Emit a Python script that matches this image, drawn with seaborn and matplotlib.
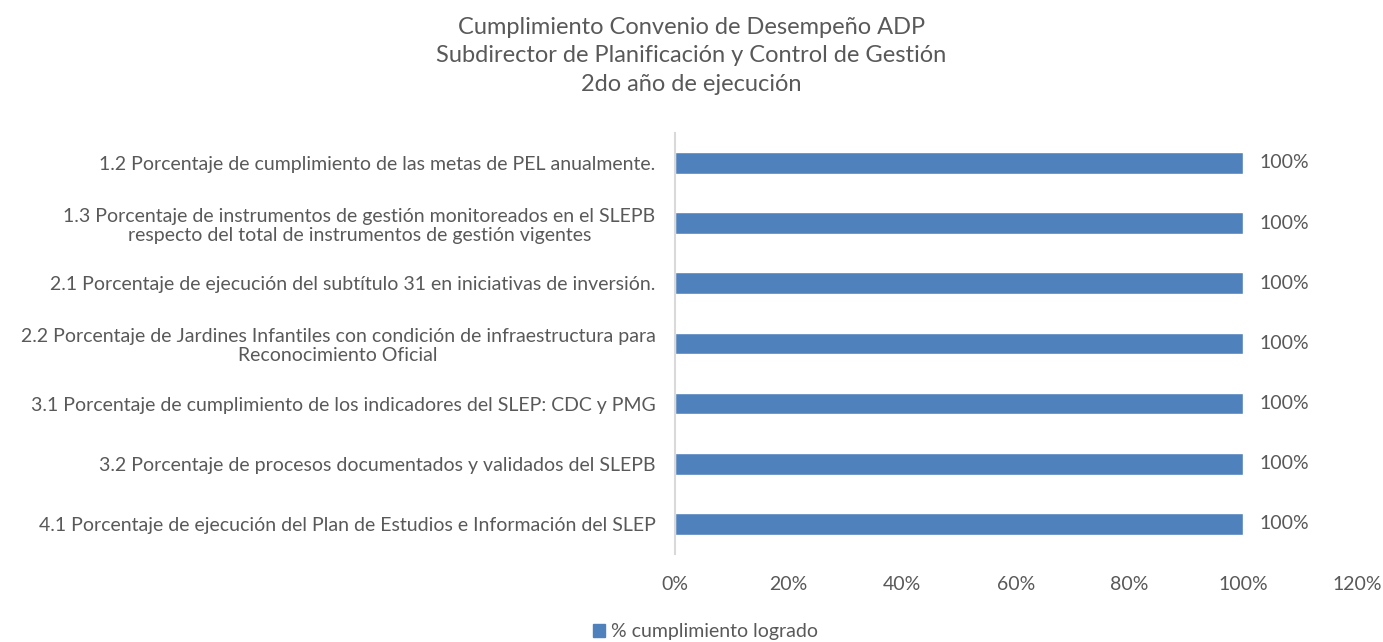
import matplotlib
matplotlib.use("Agg")
import matplotlib.pyplot as plt
import seaborn as sns
import pandas as pd
from matplotlib.ticker import FuncFormatter
from matplotlib.patches import Patch

categories = [
    "1.2 Porcentaje de cumplimiento de las metas de PEL anualmente.",
    "1.3 Porcentaje de instrumentos de gestión monitoreados en el SLEPB\nrespecto del total de instrumentos de gestión vigentes",
    "2.1 Porcentaje de ejecución del subtítulo 31 en iniciativas de inversión.",
    "2.2 Porcentaje de Jardines Infantiles con condición de infraestructura para\nReconocimiento Oficial",
    "3.1 Porcentaje de cumplimiento de los indicadores del SLEP: CDC y PMG",
    "3.2 Porcentaje de procesos documentados y validados del SLEPB",
    "4.1 Porcentaje de ejecución del Plan de Estudios e Información del SLEP",
]
values = [1.0, 1.0, 1.0, 1.0, 1.0, 1.0, 1.0]
series_name = "% cumplimiento logrado"
title_lines = ["Cumplimiento Convenio de Desempeño ADP",
               "Subdirector de Planificación y Control de Gestión",
               "2do año de ejecución"]

sns.set_theme(style="white")
plt.rcParams['font.family'] = ['Lato', 'DejaVu Sans']
txt = "#595959"
bar_color = "#4f81bd"

df = pd.DataFrame({"cat": categories, "val": values})

fig = plt.figure(figsize=(13.83, 6.42), dpi=100)
ax = fig.add_axes([0.488, 0.137, 0.493, 0.656])
sns.barplot(data=df, y="cat", x="val", orient="h", color=bar_color,
            width=0.36, saturation=1, ax=ax)
ax.set_xlim(0, 1.2)
ax.set_ylim(6.5, -0.5)
ax.set_xticks([0, 0.2, 0.4, 0.6, 0.8, 1.0, 1.2])
ax.xaxis.set_major_formatter(FuncFormatter(lambda v, p: f"{v*100:.0f}%"))
ax.set_xlabel("")
ax.set_ylabel("")
for s in ["top", "right", "bottom"]:
    ax.spines[s].set_visible(False)
ax.spines["left"].set_color("#d9d9d9")
ax.spines["left"].set_linewidth(1.5)
ax.tick_params(axis="both", length=0, colors=txt, labelsize=14)
ax.tick_params(axis="x", pad=16)
ax.tick_params(axis="y", pad=14)
for lbl in ax.get_yticklabels():
    lbl.set_horizontalalignment("right")
    lbl.set_multialignment("center")
    lbl.set_linespacing(1.15)

for c in ax.containers:
    ax.bar_label(c, labels=[f"{v*100:.0f}%" for v in values], padding=12,
                 color=txt, fontsize=14)

fig.text(0.5, 0.913, "\n".join(title_lines), ha="center", va="center",
         fontsize=17, color=txt, linespacing=1.45)

fig.legend(handles=[Patch(color=bar_color, label=series_name)],
           loc="center", bbox_to_anchor=(0.51, 0.016), frameon=False,
           fontsize=14, labelcolor=txt, handlelength=0.6, handleheight=0.6,
           handletextpad=0.3)

fig.savefig("out.png", dpi=100)
